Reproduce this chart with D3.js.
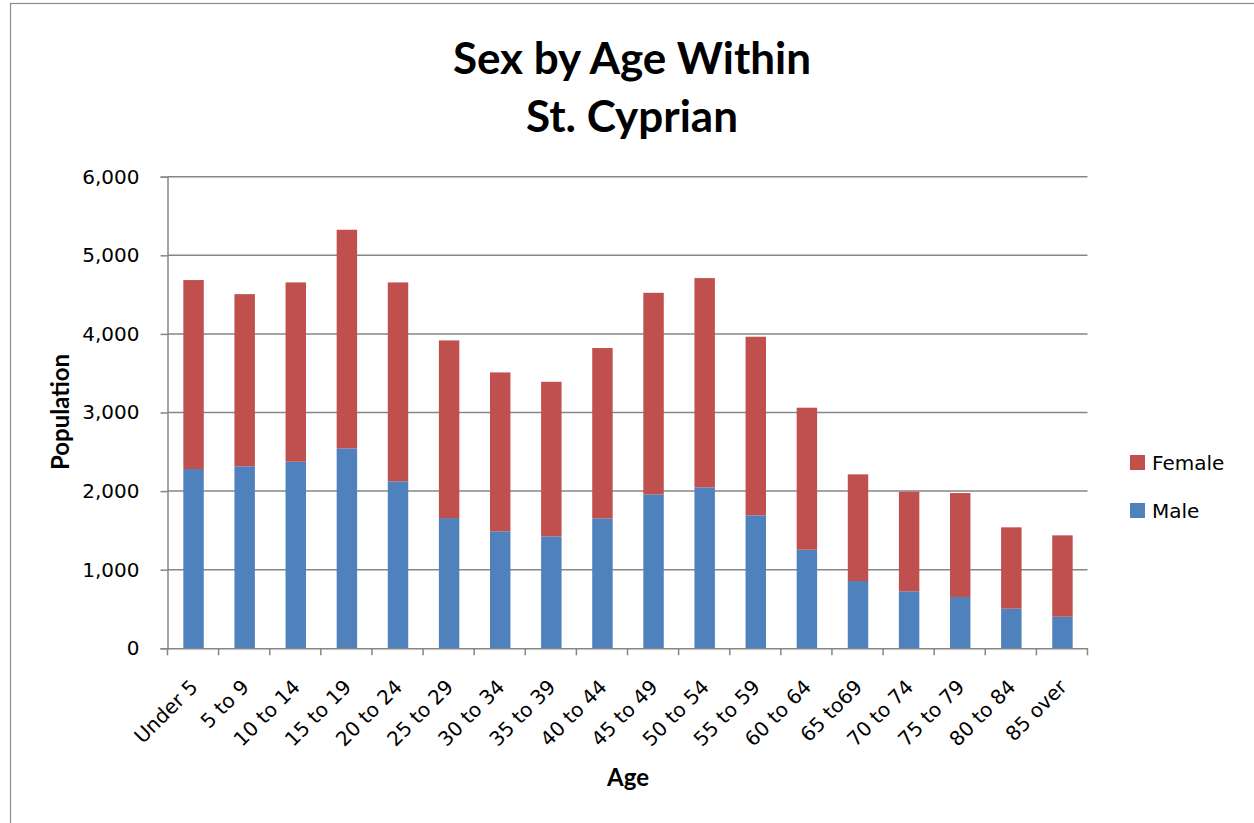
<!DOCTYPE html>
<html>
<head>
<meta charset="utf-8">
<script src="https://cdnjs.cloudflare.com/ajax/libs/d3/7.8.5/d3.min.js"></script>
<style>
  html, body { margin: 0; padding: 0; background: #fff; }
  svg { display: block; }
  text { fill: #000; }
</style>
</head>
<body>
<svg id="chart" width="1254" height="823"></svg>
<script>
const categories = ["Under 5","5 to 9","10 to 14","15 to 19","20 to 24","25 to 29","30 to 34","35 to 39","40 to 44","45 to 49","50 to 54","55 to 59","60 to 64","65 to69","70 to 74","75 to 79","80 to 84","85 over"];
const male   = [2281, 2315, 2374, 2544, 2124, 1657, 1488, 1424, 1653, 1958, 2047, 1691, 1255, 856, 725, 653, 504, 402];
const female = [2404, 2191, 2281, 2781, 2531, 2260, 2022, 1967, 2167, 2565, 2663, 2273, 1806, 1357, 1267, 1322, 1035, 1035];
const yTicks = [0, 1000, 2000, 3000, 4000, 5000, 6000];
const seriesNames = ["Male", "Female"];
const colors = {Male: "#4F81BD", Female: "#C0504D"};

const bodyFont = "'DejaVu Sans', Verdana, sans-serif";
const titleFont = "Lato, 'Open Sans', sans-serif";

const svg = d3.select("#chart");

// outer border
svg.append("rect").attr("x", 10.5).attr("y", 3.5).attr("width", 1260).attr("height", 840)
  .attr("fill", "none").attr("stroke", "#8c8c8c").attr("stroke-width", 1.2);

const plot = {left: 167.5, right: 1087.5, top: 176.7, bottom: 648.3};

const x = d3.scaleBand().domain(categories).range([plot.left, plot.right]).paddingInner(0).paddingOuter(0);
const y = d3.scaleLinear().domain([0, 6000]).range([plot.bottom, plot.top]);

// gridlines
svg.append("g").selectAll("line").data(yTicks.filter(d => d > 0)).join("line")
  .attr("x1", plot.left).attr("x2", plot.right)
  .attr("y1", d => y(d)).attr("y2", d => y(d))
  .attr("stroke", "#868686").attr("stroke-width", 1.5);

// stacked data
const rows = categories.map((c, i) => ({cat: c, Male: male[i], Female: female[i]}));
const stack = d3.stack().keys(seriesNames)(rows);
const barW = x.bandwidth() * 0.4;

svg.append("g").selectAll("g").data(stack).join("g")
  .attr("fill", d => colors[d.key])
  .selectAll("rect").data(d => d).join("rect")
  .attr("x", d => x(d.data.cat) + (x.bandwidth() - barW) / 2 + 0.5)
  .attr("width", barW)
  .attr("y", d => y(d[1]))
  .attr("height", d => y(d[0]) - y(d[1]));

// y axis
const yAxis = d3.axisLeft(y).tickValues(yTicks).tickSize(7).tickPadding(21)
  .tickFormat(d3.format(","));
const gy = svg.append("g").attr("transform", `translate(${plot.left},0)`).call(yAxis);
gy.select(".domain").attr("stroke", "#868686").attr("stroke-width", 1.5);
gy.selectAll(".tick line").attr("stroke", "#868686").attr("stroke-width", 1.5);
gy.selectAll(".tick text").attr("font-size", 20).attr("font-family", bodyFont).attr("fill", "#000");

// x axis
const xAxis = d3.axisBottom(x).tickSize(0).tickFormat("");
const gx = svg.append("g").attr("transform", `translate(0,${plot.bottom})`).call(xAxis);
gx.select(".domain").attr("stroke", "#868686").attr("stroke-width", 1.5);
const bounds = categories.map(c => x(c)).concat([plot.right]);
gx.append("g").selectAll("line").data(bounds).join("line")
  .attr("x1", d => d).attr("x2", d => d).attr("y1", 0).attr("y2", 7)
  .attr("stroke", "#868686").attr("stroke-width", 1.5);
svg.append("g").selectAll("text").data(categories).join("text")
  .attr("transform", d => `translate(${x(d) + x.bandwidth() / 2 + 6},${plot.bottom + 40}) rotate(-45)`)
  .attr("text-anchor", "end")
  .attr("font-family", bodyFont)
  .attr("font-size", 20)
  .text(d => d);

// title
svg.append("text").attr("x", 632).attr("y", 74).attr("text-anchor", "middle")
  .attr("font-family", titleFont).attr("font-size", 44).attr("font-weight", "bold").text("Sex by Age Within");
svg.append("text").attr("x", 632).attr("y", 132).attr("text-anchor", "middle")
  .attr("font-family", titleFont).attr("font-size", 44).attr("font-weight", "bold").text("St. Cyprian");

// axis titles
svg.append("text").attr("transform", "translate(69,412) rotate(-90)").attr("text-anchor", "middle")
  .attr("font-family", titleFont).attr("font-size", 24).attr("font-weight", "bold").text("Population");
svg.append("text").attr("x", 628).attr("y", 786).attr("text-anchor", "middle")
  .attr("font-family", titleFont).attr("font-size", 24).attr("font-weight", "bold").text("Age");

// legend
const legendItems = ["Female", "Male"];
const lg = svg.append("g").selectAll("g").data(legendItems).join("g")
  .attr("transform", (d, i) => `translate(1130,${455 + i * 48})`);
lg.append("rect").attr("width", 15).attr("height", 15).attr("fill", d => colors[d]);
lg.append("text").attr("x", 22).attr("y", 15).attr("font-family", bodyFont).attr("font-size", 20).text(d => d);
</script>
</body>
</html>
